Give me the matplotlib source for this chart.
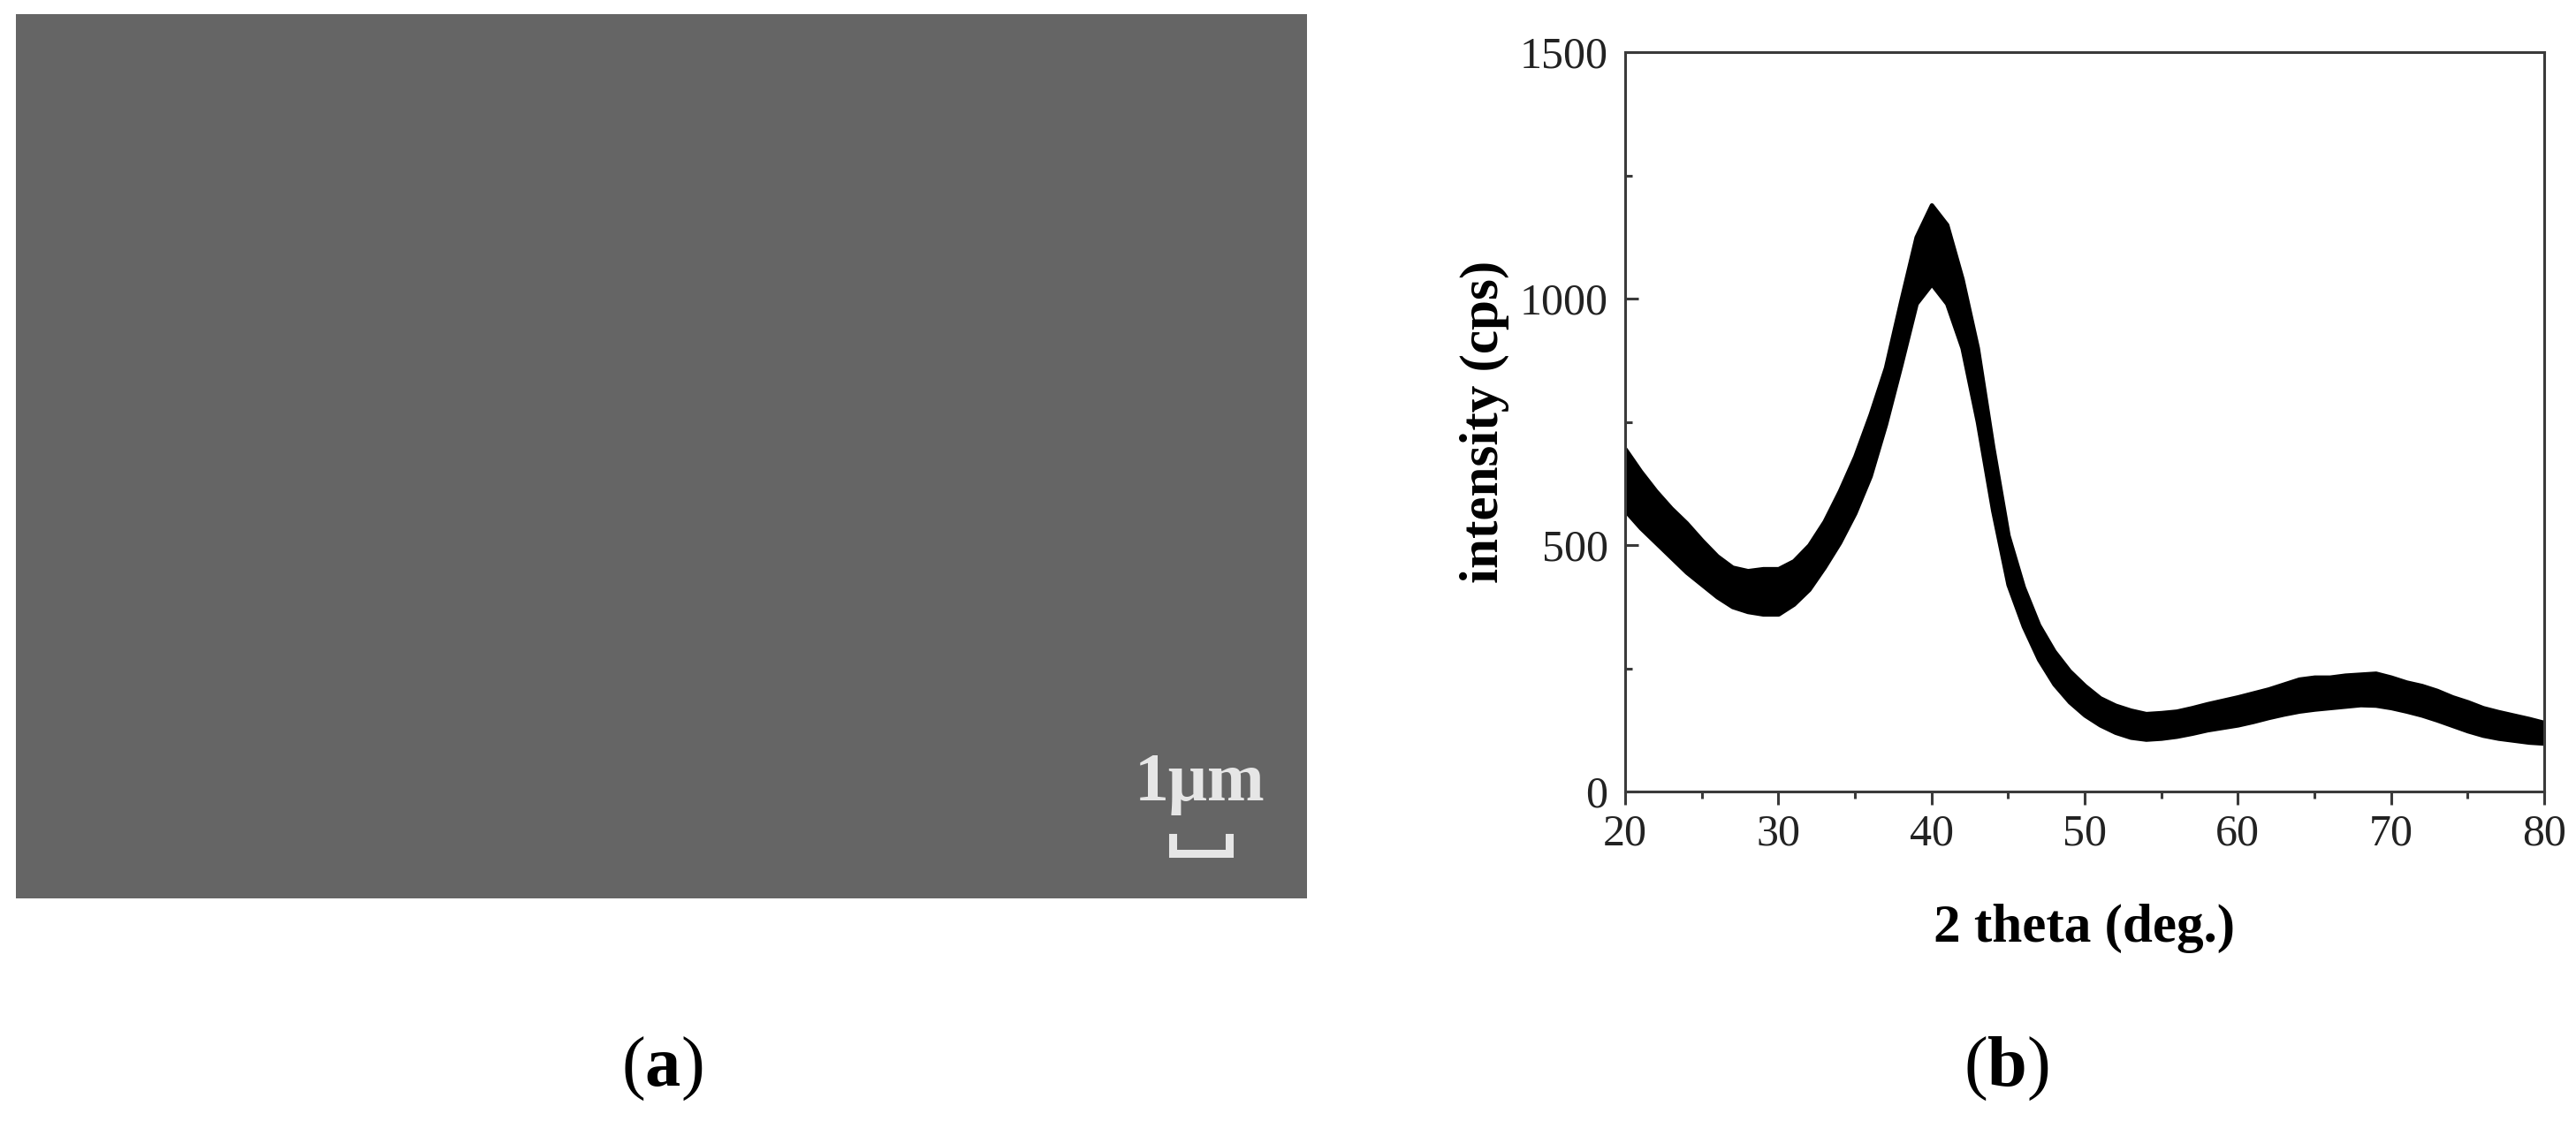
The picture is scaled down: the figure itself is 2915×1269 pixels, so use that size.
import matplotlib
matplotlib.use("Agg")
import matplotlib.pyplot as plt
from matplotlib.lines import Line2D

# ---- data ----
two_theta = [20, 21, 22, 23, 24, 25, 26, 27, 28, 29,
             30, 31, 32, 33, 34, 35, 36, 37, 38, 39,
             40, 41, 42, 43, 44, 45, 46, 47, 48, 49,
             50, 51, 52, 53, 54, 55, 56, 57, 58, 59,
             60, 61, 62, 63, 64, 65, 66, 67, 68, 69,
             70, 71, 72, 73, 74, 75, 76, 77, 78, 79, 80]
intensity_low = [570, 535, 505, 475, 445, 420, 395, 375, 365, 360,
                 360, 380, 410, 455, 505, 565, 640, 745, 865, 990,
                 1030, 990, 900, 750, 570, 420, 335, 268, 218, 182,
                 155, 135, 120, 110, 106, 108, 112, 118, 125, 130,
                 135, 142, 150, 157, 163, 167, 170, 173, 176, 175,
                 170, 163, 155, 145, 134, 123, 114, 108, 104, 100, 98]
intensity_high = [695, 650, 610, 575, 545, 510, 478, 455, 448, 452,
                  452, 468, 500, 548, 610, 680, 765, 860, 995, 1125,
                  1190, 1150, 1040, 900, 700, 520, 415, 338, 285, 245,
                  215, 190, 175, 165, 158, 160, 163, 170, 178, 185,
                  192, 200, 208, 218, 228, 232, 232, 236, 238, 240,
                  232, 222, 215, 205, 192, 182, 170, 162, 155, 148, 140]
x_ticks = [20, 30, 40, 50, 60, 70, 80]
y_ticks = [0, 500, 1000, 1500]
scale_text = "1\u03bcm"
panel_labels = ["a", "b"]

plt.rcParams['font.family'] = ['Liberation Serif', 'DejaVu Serif']
plt.rcParams['mathtext.fontset'] = 'custom'
plt.rcParams['mathtext.rm'] = 'Liberation Serif'
plt.rcParams['mathtext.bf'] = 'Liberation Serif:bold'

W, H = 2915, 1269
fig = plt.figure(figsize=(W / 100, H / 100), dpi=100)
fig.patch.set_facecolor('white')

def rect(x0, y0, x1, y1):
    return [x0 / W, 1 - y1 / H, (x1 - x0) / W, (y1 - y0) / H]

# ---- panel (a): SEM image ----
axa = fig.add_axes(rect(18, 16, 1479, 1017))
axa.set_facecolor('#656565')
axa.set_xlim(0, 1)
axa.set_ylim(0, 1)
axa.set_xticks([])
axa.set_yticks([])
for s in axa.spines.values():
    s.set_visible(False)

def ax_coords(px, py):
    return ((px - 18) / (1479 - 18), 1 - (py - 16) / (1017 - 16))

tx, ty = ax_coords(1358, 906)
axa.text(tx, ty, scale_text, color='#e6e6e6', fontsize=56, fontweight='bold',
         ha='center', va='baseline', transform=axa.transAxes)
bx0, by0 = ax_coords(1327, 966)
bx1, by1 = ax_coords(1391, 948)
axa.add_line(Line2D([bx0, bx0, bx1, bx1], [by1, by0, by0, by1],
                    color='#e6e6e6', lw=6.5, solid_joinstyle='miter',
                    transform=axa.transAxes))

# ---- panel (b): XRD pattern ----
axb = fig.add_axes(rect(1839, 59, 2879, 896))
axb.fill_between(two_theta, intensity_low, intensity_high,
                 color='black', lw=3.5, edgecolor='black')
axb.set_xlim(20, 80)
axb.set_ylim(0, 1500)
axb.set_xticks(x_ticks)
axb.set_yticks(y_ticks)
axb.set_xticks([25, 35, 45, 55, 65, 75], minor=True)
axb.set_yticks([250, 750, 1250], minor=True)
for s in axb.spines.values():
    s.set_linewidth(2.2)
    s.set_color('#3a3a3a')
axb.tick_params(axis='x', which='major', direction='out', length=11,
                width=2.2, color='#3a3a3a', labelsize=36, pad=7,
                labelcolor='#222222')
axb.tick_params(axis='x', which='minor', direction='out', length=6,
                width=2.2, color='#3a3a3a')
axb.tick_params(axis='y', which='major', direction='in', length=11,
                width=2.2, color='#3a3a3a', labelsize=36, pad=14,
                labelcolor='#222222')
axb.tick_params(axis='y', which='minor', direction='in', length=6,
                width=2.2, color='#3a3a3a')
axb.set_xlabel('2 theta (deg.)', fontsize=44, fontweight='bold', labelpad=40)
axb.set_ylabel('intensity (cps)', fontsize=44, fontweight='bold', labelpad=8)

# ---- panel labels ----
fig.text(749 / W, 1 - 1210 / H, r'$(\mathbf{%s})$' % panel_labels[0],
         fontsize=58, ha='center', va='center')
fig.text(2270 / W, 1 - 1210 / H, r'$(\mathbf{%s})$' % panel_labels[1],
         fontsize=58, ha='center', va='center')

fig.savefig('out.png', dpi=100)
